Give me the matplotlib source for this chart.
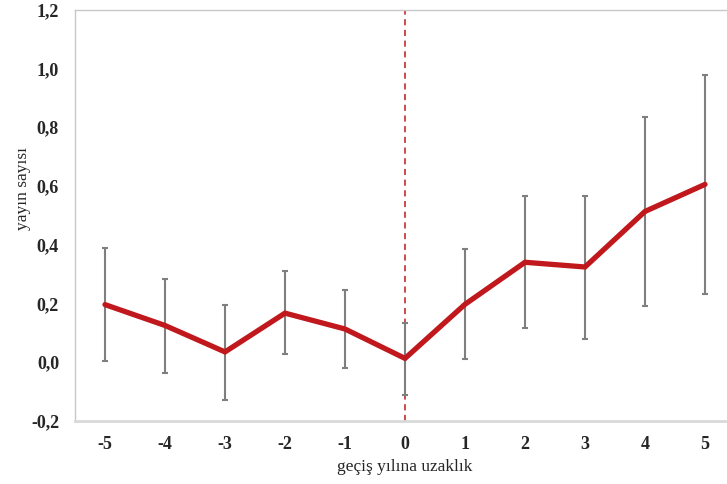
import matplotlib

matplotlib.use("Agg")
import matplotlib.pyplot as plt
from matplotlib.ticker import FuncFormatter

plt.rcParams["axes.unicode_minus"] = False

RED = "#c0181c"
GRAY = "#7f7f7f"
SPINE = "#c8c8c8"
INK = "#262626"

years = [-5, -4, -3, -2, -1, 0, 1, 2, 3, 4, 5]
mean = [0.196, 0.125, 0.035, 0.167, 0.113, 0.013, 0.197, 0.340, 0.324, 0.513, 0.605]
upper = [0.388, 0.283, 0.193, 0.310, 0.246, 0.135, 0.385, 0.566, 0.567, 0.833, 0.977]
lower = [0.004, -0.037, -0.128, 0.027, -0.021, -0.110, 0.012, 0.116, 0.078, 0.192, 0.233]
yticks = [-0.2, 0.0, 0.2, 0.4, 0.6, 0.8, 1.0, 1.2]

err_lo = [m - l for m, l in zip(mean, lower)]
err_hi = [u - m for m, u in zip(mean, upper)]

fig = plt.figure(figsize=(7.27, 4.84), dpi=100)
ax = fig.add_axes([75 / 727, 1 - 421 / 484, 660 / 727, 411.5 / 484])

ax.errorbar(years, mean, yerr=[err_lo, err_hi], fmt="none", ecolor=GRAY,
            elinewidth=1.5, capsize=2.3, capthick=1.5, zorder=2)
ax.plot(years, mean, color=RED, linewidth=3.8, solid_capstyle="round",
        solid_joinstyle="miter", zorder=3)
ax.axvline(0, color=RED, linewidth=1.1, linestyle=(0, (4, 3)), zorder=1)

ax.set_xlim(-5.5, 5.5)
ax.set_ylim(-0.2, 1.2)
ax.set_xticks(years)
ax.set_yticks(yticks)
ax.yaxis.set_major_formatter(FuncFormatter(lambda v, p: f"{v:.1f}".replace(".", ",").replace("-0,0", "0,0")))
ax.tick_params(length=0, colors=INK, labelsize=13)
ax.tick_params(axis="x", pad=10.5)
ax.tick_params(axis="y", pad=11.5)
for lab in ax.get_xticklabels() + ax.get_yticklabels():
    lab.set_fontfamily("Liberation Serif")
    lab.set_fontweight("bold")

for side in ("left", "top", "right"):
    ax.spines[side].set_color(SPINE)
    ax.spines[side].set_linewidth(1.0)
ax.spines["bottom"].set_color("#d9d9d9")
ax.spines["bottom"].set_linewidth(2.0)

ax.set_xlabel("geçiş yılına uzaklık", family="Liberation Serif", fontsize=12.5, color=INK)
ax.set_ylabel("yayın sayısı", family="Liberation Serif", fontsize=12.5, color=INK)
ax.xaxis.set_label_coords(0.5, -0.093)
ax.yaxis.set_label_coords(-0.067, 0.565)

fig.savefig("out.png", dpi=100, facecolor="white")
